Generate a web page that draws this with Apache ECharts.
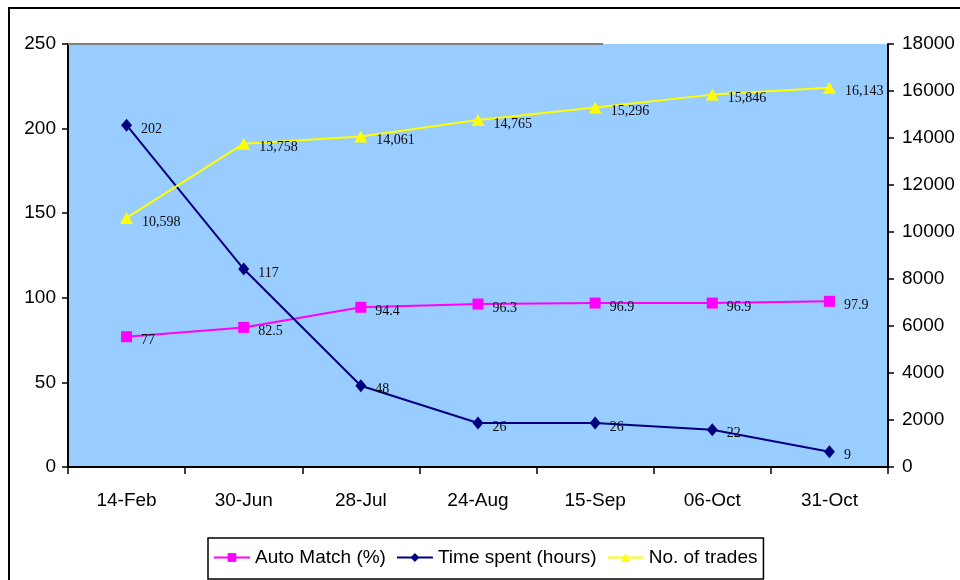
<!DOCTYPE html>
<html>
<head>
<meta charset="utf-8">
<script src="https://cdn.jsdelivr.net/npm/echarts@6/dist/echarts.min.js"></script>
<style>
  html, body { margin: 0; padding: 0; background: #ffffff; }
  #chart { width: 960px; height: 580px; }
</style>
</head>
<body>
<div id="chart"></div>
<script>
// Dates on the category axis
const categories = ['14-Feb', '30-Jun', '28-Jul', '24-Aug', '15-Sep', '06-Oct', '31-Oct'];
// Left axis series
const autoMatch = [77, 82.5, 94.4, 96.3, 96.9, 96.9, 97.9];
const timeSpent = [202, 117, 48, 26, 26, 22, 9];
// Right axis series
const trades = [10598, 13758, 14061, 14765, 15296, 15846, 16143];

const chart = echarts.init(document.getElementById('chart'), null, { renderer: 'canvas' });

const axisFont = { fontFamily: 'Liberation Sans, Arial, sans-serif', fontSize: 19, color: '#000' };
const labelStyle = {
  show: true,
  position: 'right',
  distance: 8,
  offset: [1, 4],
  fontFamily: 'Liberation Serif, Times New Roman, serif',
  fontSize: 14,
  color: '#0a0a0a'
};

chart.setOption({
  animation: false,
  backgroundColor: '#ffffff',
  grid: {
    left: 68, right: 72, top: 44, bottom: 113,
    show: true, backgroundColor: '#99CCFF', borderWidth: 0
  },
  legend: {
    left: 208, top: 538,
    padding: [10, 6, 12, 5],
    borderColor: '#000', borderWidth: 1.5,
    itemWidth: 36, itemHeight: 11, itemGap: 10,
    textStyle: { fontFamily: 'Liberation Sans, Arial, sans-serif', fontSize: 19, color: '#000' },
    data: ['Auto Match (%)', 'Time spent (hours)', 'No. of trades']
  },
  xAxis: {
    type: 'category',
    data: categories,
    boundaryGap: true,
    axisLine: { lineStyle: { color: '#000', width: 2 } },
    axisTick: { show: true, length: 7, lineStyle: { color: '#000', width: 1.5 } },
    axisLabel: Object.assign({ margin: 24 }, axisFont),
    splitLine: { show: false }
  },
  yAxis: [
    {
      type: 'value', min: 0, max: 250, interval: 50, position: 'left',
      axisLine: { show: true, lineStyle: { color: '#000', width: 2 } },
      axisTick: { show: true, length: 6, lineStyle: { color: '#000', width: 1.5 } },
      axisLabel: Object.assign({ margin: 12 }, axisFont),
      splitLine: { show: false }
    },
    {
      type: 'value', min: 0, max: 18000, interval: 2000, position: 'right',
      axisLine: { show: true, lineStyle: { color: '#000', width: 2 } },
      axisTick: { show: true, length: 6, lineStyle: { color: '#000', width: 1.5 } },
      axisLabel: Object.assign({ margin: 14, formatter: v => String(v) }, axisFont),
      splitLine: { show: false }
    }
  ],
  series: [
    {
      name: 'Auto Match (%)', type: 'line', yAxisIndex: 0, data: autoMatch,
      symbol: 'rect', symbolSize: 11,
      lineStyle: { color: '#FF00FF', width: 2 },
      itemStyle: { color: '#FF00FF' },
      label: labelStyle
    },
    {
      name: 'Time spent (hours)', type: 'line', yAxisIndex: 0, data: timeSpent,
      symbol: 'diamond', symbolSize: [11, 13],
      lineStyle: { color: '#000080', width: 2 },
      itemStyle: { color: '#000080' },
      label: labelStyle
    },
    {
      name: 'No. of trades', type: 'line', yAxisIndex: 1, data: trades,
      symbol: 'triangle', symbolSize: [13, 12],
      lineStyle: { color: '#FFFF00', width: 2 },
      itemStyle: { color: '#FFFF00' },
      label: Object.assign({}, labelStyle, {
        formatter: p => p.value.toLocaleString('en-US')
      })
    }
  ],
  graphic: [
    // frame around the chart area
    {
      type: 'rect', silent: true, z: 100,
      shape: { x: 9, y: 8, width: 1000, height: 620 },
      style: { fill: 'none', stroke: '#000', lineWidth: 2 }
    },
    // partial grey rule along the top of the plot
    {
      type: 'line', silent: true, z: 100,
      shape: { x1: 68, y1: 44, x2: 603, y2: 44 },
      style: { stroke: '#808080', lineWidth: 2 }
    }
  ]
});
</script>
</body>
</html>
